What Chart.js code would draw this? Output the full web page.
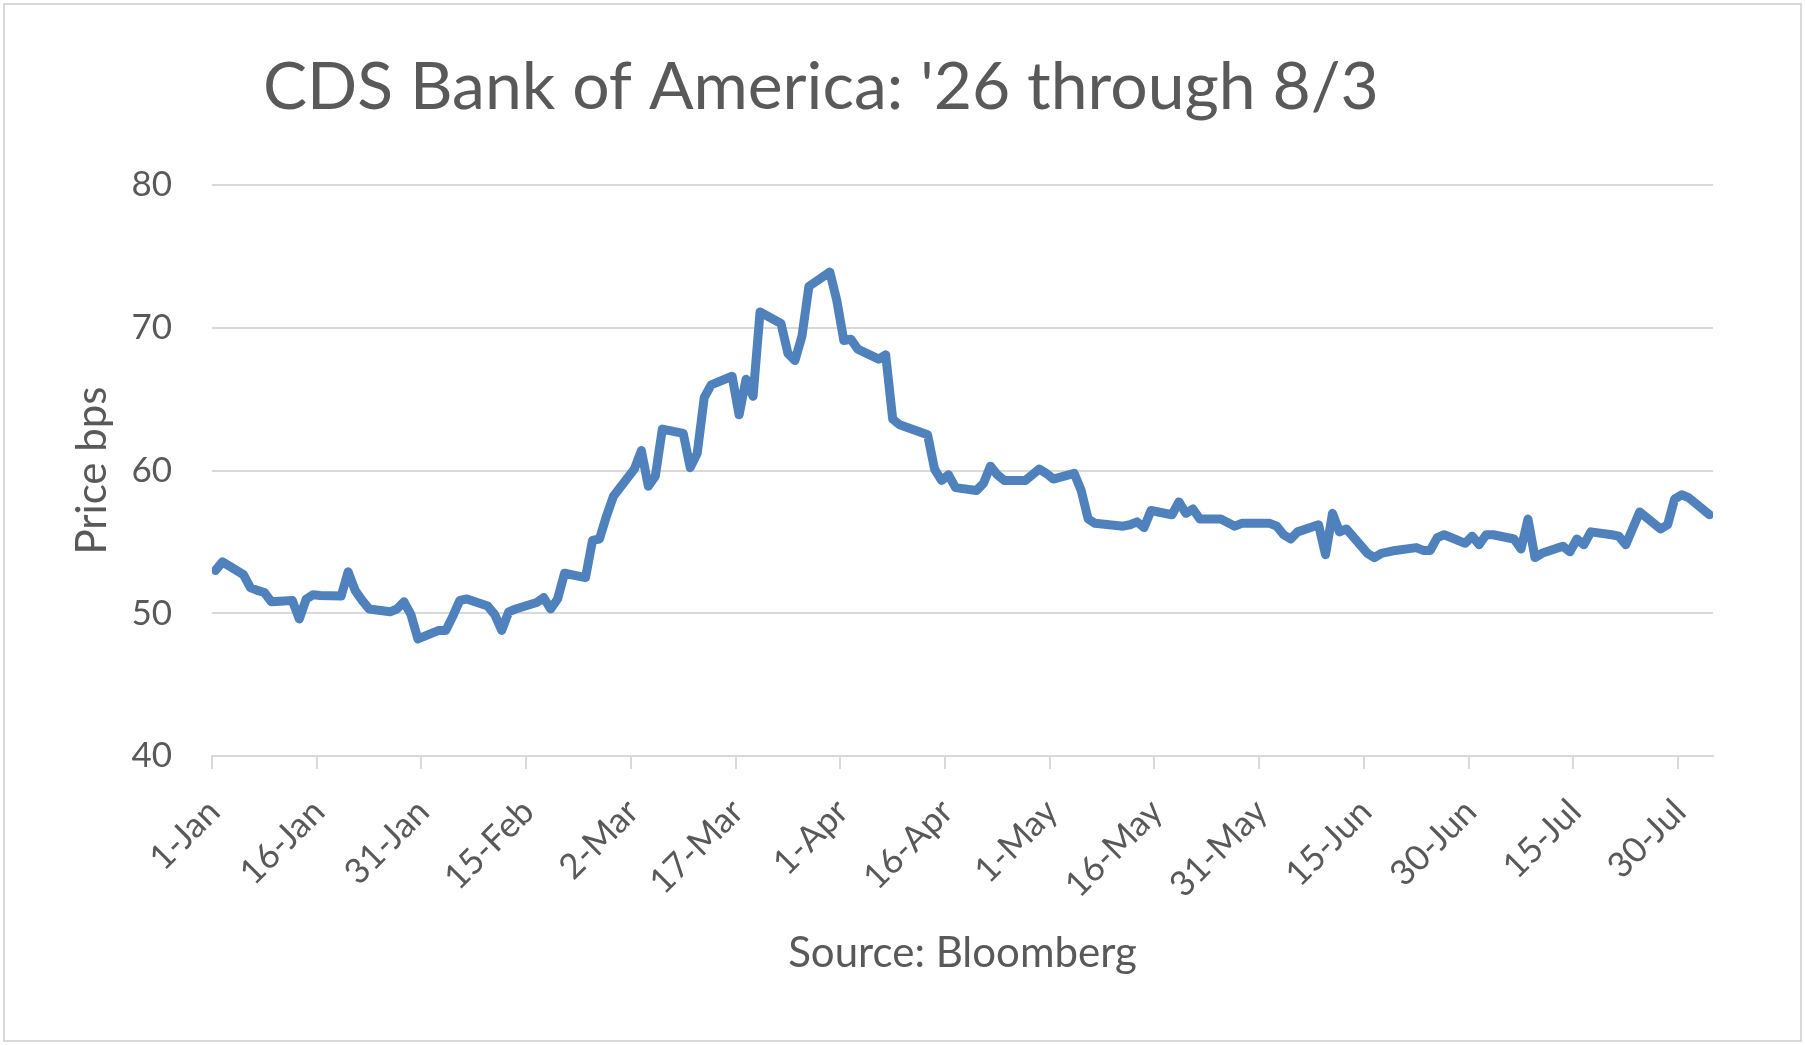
<!DOCTYPE html>
<html>
<head>
<meta charset="utf-8">
<title>CDS Bank of America</title>
<script src="https://cdn.jsdelivr.net/npm/chart.js@4.4.1/dist/chart.umd.min.js"></script>
<style>
    html, body { margin: 0; padding: 0; background: #ffffff; }
    canvas { display: block; }
</style>
</head>
<body>
<canvas id="myChart" width="1805" height="1045"></canvas>
<script>
// days counted from 1-Jan (0 = 1-Jan), business days only
const days = [
    0, 1, 4, 5, 6, 7, 8, 11, 12, 13, 14, 15, 18, 19, 20, 21, 22, 25, 26, 27, 28, 29,
    32, 33, 34, 35, 36, 39, 40, 41, 42, 43, 46, 47, 48, 49, 50, 53, 54, 55, 56, 57,
    60, 61, 62, 63, 64, 67, 68, 69, 70, 71, 74, 75, 76, 77, 78, 81, 82, 83, 84, 85,
    88, 89, 90, 91, 92, 95, 96, 97, 98, 102, 103, 104, 105, 106, 109, 110, 111, 112, 113,
    116, 117, 118, 119, 120, 123, 124, 125, 126, 130, 131, 132, 133, 134, 137, 138, 139, 140, 141,
    144, 146, 147, 151, 152, 153, 154, 155, 158, 159, 160, 161, 162, 165, 166, 167, 168, 169,
    172, 173, 174, 175, 176, 179, 180, 181, 182, 183, 186, 187, 188, 189, 190,
    193, 194, 195, 196, 197, 200, 201, 202, 204, 207, 208, 209, 210, 211, 214
];
const cdsValues = [
    53.0, 53.6, 52.7, 51.8, 51.6, 51.45, 50.8, 50.9, 49.6, 51.0, 51.3, 51.25, 51.2, 52.9, 51.6, 50.9, 50.3, 50.1, 50.3, 50.8, 49.9, 48.2,
    48.8, 48.8, 49.8, 50.9, 51.0, 50.5, 49.9, 48.8, 50.1, 50.3, 50.75, 51.1, 50.3, 51.0, 52.8, 52.5, 55.1, 55.2, 56.8, 58.2,
    60.1, 61.4, 58.9, 59.6, 62.9, 62.6, 60.2, 61.2, 65.1, 66.0, 66.6, 63.9, 66.4, 65.2, 71.1, 70.3, 68.2, 67.7, 69.4, 72.9,
    73.9, 71.9, 69.1, 69.2, 68.5, 67.8, 68.1, 63.6, 63.2, 62.5, 60.1, 59.3, 59.7, 58.8, 58.6, 59.1, 60.3, 59.7, 59.3,
    59.3, 59.7, 60.1, 59.8, 59.4, 59.8, 58.6, 56.6, 56.3, 56.1, 56.2, 56.4, 56.0, 57.2, 56.9, 57.8, 57.0, 57.3, 56.6,
    56.6, 56.1, 56.3, 56.3, 56.1, 55.5, 55.2, 55.7, 56.2, 54.1, 57.0, 55.7, 55.9, 54.2, 53.9, 54.2, 54.3, 54.4,
    54.6, 54.4, 54.4, 55.3, 55.5, 54.9, 55.4, 54.8, 55.5, 55.5, 55.2, 54.5, 56.6, 53.9, 54.2,
    54.7, 54.3, 55.2, 54.8, 55.7, 55.5, 55.4, 54.8, 57.1, 55.9, 56.2, 58.0, 58.3, 58.1, 56.9
];
const xTickLabels = ["1-Jan", "16-Jan", "31-Jan", "15-Feb", "2-Mar", "17-Mar", "1-Apr", "16-Apr",
    "1-May", "16-May", "31-May", "15-Jun", "30-Jun", "15-Jul", "30-Jul"];
const yTicks = [40, 50, 60, 70, 80];
const chartTitle = "CDS Bank of America: '26 through 8/3";
const yTitle = "Price bps";
const xTitle = "Source: Bloomberg";

const textColor = "#595959";
const gridColor = "#d9d9d9";

// fond blanc + cadre gris + titre
const framePlugin = {
    id: "frame",
    beforeDraw(chart) {
        const c = chart.ctx;
        c.save();
        c.fillStyle = "#ffffff";
        c.fillRect(0, 0, chart.width, chart.height);
        c.strokeStyle = gridColor;
        c.lineWidth = 2;
        c.strokeRect(4, 4, chart.width - 8, chart.height - 8);
        c.fillStyle = textColor;
        c.font = "66px Lato";
        c.textBaseline = "alphabetic";
        c.textAlign = "left";
        c.fillText(chartTitle, 263, 109);
        c.restore();
    }
};

async function draw() {
    try { await document.fonts.load("35px Lato"); } catch (e) {}

    Chart.defaults.font.family = "Lato";
    Chart.defaults.color = textColor;

    const ctx = document.getElementById("myChart").getContext("2d");
    const points = days.map((d, i) => ({x: d + 0.5, y: cdsValues[i]}));

    new Chart(ctx, {
        type: "line",
        data: {
            datasets: [{
                label: "CDS",
                data: points,
                borderColor: "#4f81bd",
                borderWidth: 9,
                borderJoinStyle: "round",
                borderCapStyle: "round",
                pointRadius: 0,
                tension: 0,
                fill: false
            }]
        },
        options: {
            responsive: false,
            animation: false,
            devicePixelRatio: 1,
            layout: {padding: {left: 40, right: 92, top: 185, bottom: 40}},
            plugins: {
                legend: {display: false},
                tooltip: {enabled: false}
            },
            scales: {
                x: {
                    type: "linear",
                    min: 0,
                    max: 215,
                    afterFit: (s) => { s.height = 1045 - 756 - 40; },
                    grid: {drawOnChartArea: false, drawTicks: true, tickLength: 13, color: gridColor, lineWidth: 2},
                    border: {display: true, color: gridColor, width: 2},
                    ticks: {
                        stepSize: 15,
                        includeBounds: false,
                        autoSkip: false,
                        maxRotation: 45,
                        minRotation: 45,
                        padding: 22,
                        labelOffset: 2,
                        font: {size: 35},
                        color: textColor,
                        callback: (v) => xTickLabels[Math.round(v / 15)]
                    },
                    title: {display: true, text: xTitle, font: {size: 42}, color: textColor, padding: {top: 0, bottom: 26}}
                },
                y: {
                    min: yTicks[0],
                    max: yTicks[yTicks.length - 1],
                    afterFit: (s) => { s.width = 212 - 40; },
                    grid: {drawTicks: false, color: gridColor, lineWidth: 2},
                    border: {display: false},
                    ticks: {stepSize: 10, padding: 40, font: {size: 35}, color: textColor},
                    title: {display: true, text: yTitle, font: {size: 42}, color: textColor, padding: {top: 27, bottom: 0}}
                }
            }
        },
        plugins: [framePlugin]
    });
}

window.addEventListener("DOMContentLoaded", draw);
</script>
</body>
</html>
